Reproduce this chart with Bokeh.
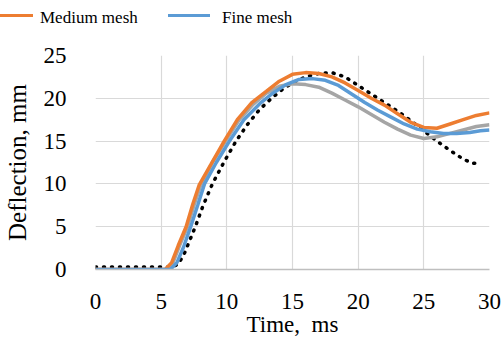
from bokeh.plotting import figure
from bokeh.models import FixedTicker, Range1d, Div
from bokeh.layouts import column
from bokeh.embed import file_html
from bokeh.resources import INLINE

# Medium mesh (orange)
med_t = [0, 5.3, 5.8, 6.3, 6.9, 7.4, 7.9, 8.8, 9.8, 10.8, 11.9, 13, 14, 15, 16, 17, 18, 19, 20, 21, 22, 23, 24, 25, 26, 27, 28, 29, 30]
med_d = [0, 0, 0.8, 2.8, 5.0, 7.6, 9.9, 12.3, 15.0, 17.5, 19.5, 20.8, 22.0, 22.8, 23.0, 22.9, 22.5, 21.8, 20.9, 20.0, 19.2, 18.2, 17.2, 16.6, 16.5, 17.0, 17.5, 18.0, 18.3]

# Coarse mesh (gray)
coarse_t = [0, 5.4, 5.9, 6.4, 7.0, 7.5, 8.0, 8.9, 9.9, 10.9, 12.0, 13, 14, 15, 16, 17, 18, 19, 20, 21, 22, 23, 24, 25, 26, 27, 28, 29, 30]
coarse_d = [0, 0, 0.8, 2.8, 5.0, 7.5, 9.8, 12.5, 15.0, 17.4, 19.3, 20.6, 21.4, 21.7, 21.6, 21.3, 20.6, 19.8, 19.0, 18.1, 17.2, 16.4, 15.7, 15.3, 15.5, 15.9, 16.3, 16.7, 16.9]

# Fine mesh (blue)
fine_t = [0, 5.7, 6.2, 6.7, 7.25, 7.8, 8.3, 9.2, 10.2, 11.3, 12.6, 13.5, 14.5, 15.5, 16.5, 17.5, 18.5, 19.5, 20.5, 21.5, 22.5, 23.5, 24.5, 25.5, 26.5, 27.5, 28.5, 29.3, 30]
fine_d = [0, 0, 0.8, 2.6, 5.0, 7.6, 10.0, 12.5, 15.0, 17.5, 19.5, 20.6, 21.6, 22.2, 22.3, 22.1, 21.5, 20.5, 19.5, 18.6, 17.8, 17.0, 16.4, 16.1, 15.9, 15.9, 16.0, 16.2, 16.3]

# Experiment (dotted black)
exp_t = [0, 5.8, 6.3, 6.8, 7.2, 7.6, 8.2, 8.9, 9.8, 10.7, 11.6, 12.5, 13.4, 14.2, 15.0, 16, 17, 18, 19, 20, 21, 22, 23, 24, 25, 26, 27, 28, 28.7, 29.4]
exp_d = [0.3, 0.3, 0.6, 2.0, 3.5, 5.0, 7.5, 10.0, 12.6, 15.0, 17.0, 18.7, 20.0, 21.0, 21.8, 22.5, 22.9, 23.0, 22.5, 21.5, 20.5, 19.5, 18.5, 17.4, 16.2, 15.0, 13.9, 12.9, 12.4, 12.5]

x_ticks = [0, 5, 10, 15, 20, 25, 30]
y_ticks = [0, 5, 10, 15, 20, 25]
legend_labels = ["Medium mesh", "Fine mesh"]

FONT = "Liberation Serif"
C_MED, C_FINE, C_COARSE = "#ED7D31", "#5B9BD5", "#A5A5A5"
LEG_H = 30

# ---- legend strip (HTML, sits above the plot frame; partially cut at the left edge)
legend_html = (
    f'<div style="position:relative;width:502px;height:{LEG_H}px;overflow:hidden;'
    f'font-family:\'{FONT}\';font-size:17px;line-height:20px;color:black;">'
    f'<div style="position:absolute;left:-9px;top:14px;width:42px;height:0;border-top:3.5px solid {C_MED};"></div>'
    f'<div style="position:absolute;left:40px;top:8px;white-space:nowrap;">{legend_labels[0]}</div>'
    f'<div style="position:absolute;left:168px;top:14px;width:42px;height:0;border-top:3.5px solid {C_FINE};"></div>'
    f'<div style="position:absolute;left:222px;top:8px;white-space:nowrap;">{legend_labels[1]}</div>'
    '</div>'
)
leg = Div(text=legend_html, width=502, height=LEG_H, margin=0)

# ---- main chart
p = figure(width=502, height=339 - LEG_H, output_backend="svg", toolbar_location=None,
           x_range=Range1d(0, 30), y_range=Range1d(0, 25),
           min_border_left=95, min_border_right=13, min_border_top=55 - LEG_H, min_border_bottom=70)
p.outline_line_color = None
p.background_fill_color = "white"

for ax in (p.xaxis[0], p.yaxis[0]):
    ax.major_label_text_font = FONT
    ax.major_label_text_font_size = "23px"
    ax.major_label_text_color = "black"
    ax.axis_label_text_font = FONT
    ax.axis_label_text_font_size = "23px"
    ax.axis_label_text_font_style = "normal"
    ax.axis_label_text_color = "black"
    ax.major_tick_line_color = None
    ax.minor_tick_line_color = None

p.yaxis.axis_label_text_font_size = "25px"
p.xaxis.ticker = FixedTicker(ticks=x_ticks)
p.yaxis.ticker = FixedTicker(ticks=y_ticks)
p.xaxis.axis_label = "Time,\u00a0 ms"
p.yaxis.axis_label = "Deflection, mm"
p.xaxis.axis_line_color = "#BFBFBF"
p.xaxis.axis_line_width = 1.5
p.yaxis.axis_line_color = None
p.xaxis.major_label_standoff = 18
p.xaxis.axis_label_standoff = 0
p.yaxis.major_label_standoff = 23
p.yaxis.axis_label_standoff = 10

p.xgrid.ticker = FixedTicker(ticks=x_ticks)
p.ygrid.ticker = FixedTicker(ticks=y_ticks)
p.grid.grid_line_color = "#D9D9D9"
p.grid.grid_line_width = 1.2

p.line(exp_t, exp_d, line_color="black", line_width=3.5, line_dash="1 7", line_cap="round")
p.line(coarse_t, coarse_d, line_color=C_COARSE, line_width=3.5)
p.line(med_t, med_d, line_color=C_MED, line_width=3.5)
p.line(fine_t, fine_d, line_color=C_FINE, line_width=3.5)

layout = column(leg, p, spacing=0)
open("out.html", "w").write(file_html(layout, INLINE))
